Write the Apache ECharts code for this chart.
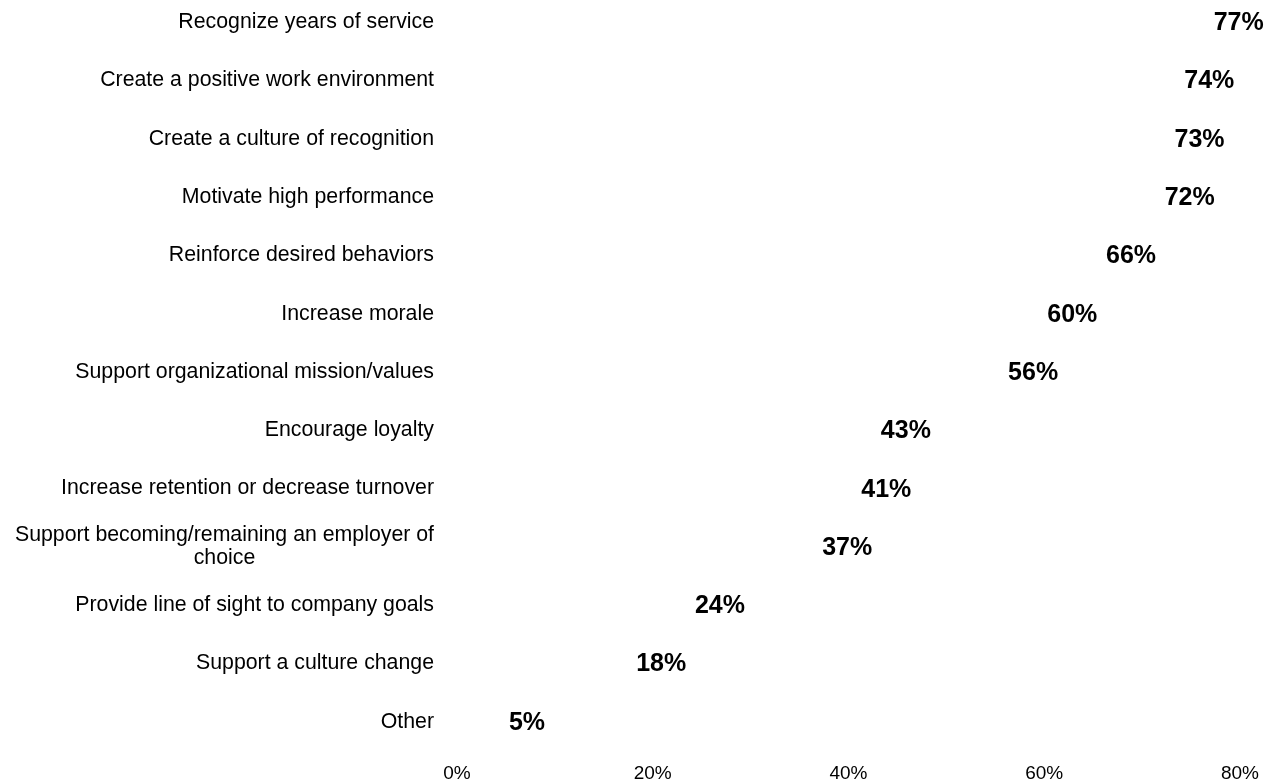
<!DOCTYPE html>
<html>
<head>
<meta charset="utf-8">
<script src="https://cdn.jsdelivr.net/npm/echarts@6/dist/echarts.min.js"></script>
<style>
  html, body { margin: 0; padding: 0; background: #ffffff; }
  #chart { width: 1281px; height: 780px; }
</style>
</head>
<body>
<div id="chart"></div>
<script>
// Reasons for recognition programs, share of respondents (%)
const categories = [
  'Recognize years of service',
  'Create a positive work environment',
  'Create a culture of recognition',
  'Motivate high performance',
  'Reinforce desired behaviors',
  'Increase morale',
  'Support organizational mission/values',
  'Encourage loyalty',
  'Increase retention or decrease turnover',
  'Support becoming/remaining an employer of\nchoice',
  'Provide line of sight to company goals',
  'Support a culture change',
  'Other'
];
const values = [77, 74, 73, 72, 66, 60, 56, 43, 41, 37, 24, 18, 5];
const tickValues = [0, 20, 40, 60, 80];

const chart = echarts.init(document.getElementById('chart'), null, { renderer: 'canvas' });

const FONT = '"Liberation Sans", Arial, sans-serif';

chart.setOption({
  backgroundColor: '#ffffff',
  animation: false,
  grid: {
    left: 457, right: 41, top: -7, bottom: 29,
    containLabel: false,
    outerBoundsMode: 'none'
  },
  xAxis: {
    type: 'value',
    min: tickValues[0],
    max: tickValues[tickValues.length - 1],
    interval: tickValues[1] - tickValues[0],
    axisLine: { show: false },
    axisTick: { show: false },
    splitLine: { show: false },
    axisLabel: {
      formatter: v => v + '%',
      color: '#000000',
      fontFamily: FONT,
      fontSize: 19,
      margin: 13
    }
  },
  yAxis: {
    type: 'category',
    inverse: true,
    data: categories,
    axisLine: { show: false },
    axisTick: { show: false },
    splitLine: { show: false },
    axisLabel: {
      color: '#000000',
      fontFamily: FONT,
      fontSize: 21.3,
      margin: 23,
      lineHeight: 23,
      interval: 0,
      // each line centred within the label block (wrapped label reads centred)
      formatter: v => v.split('\n').map(s => '{c|' + s + '}').join('\n'),
      rich: {
        c: { align: 'center', color: '#000000', fontFamily: FONT, fontSize: 21.3, lineHeight: 23 }
      }
    }
  },
  series: [{
    type: 'bar',
    data: values,
    barWidth: '50%',
    itemStyle: { color: 'rgba(255,255,255,0)' },
    label: {
      show: true,
      position: 'right',
      distance: 3,
      formatter: p => p.value + '%',
      color: '#000000',
      fontFamily: FONT,
      fontWeight: 'bold',
      fontSize: 25,
      offset: [0, 1]
    }
  }]
});
</script>
</body>
</html>
